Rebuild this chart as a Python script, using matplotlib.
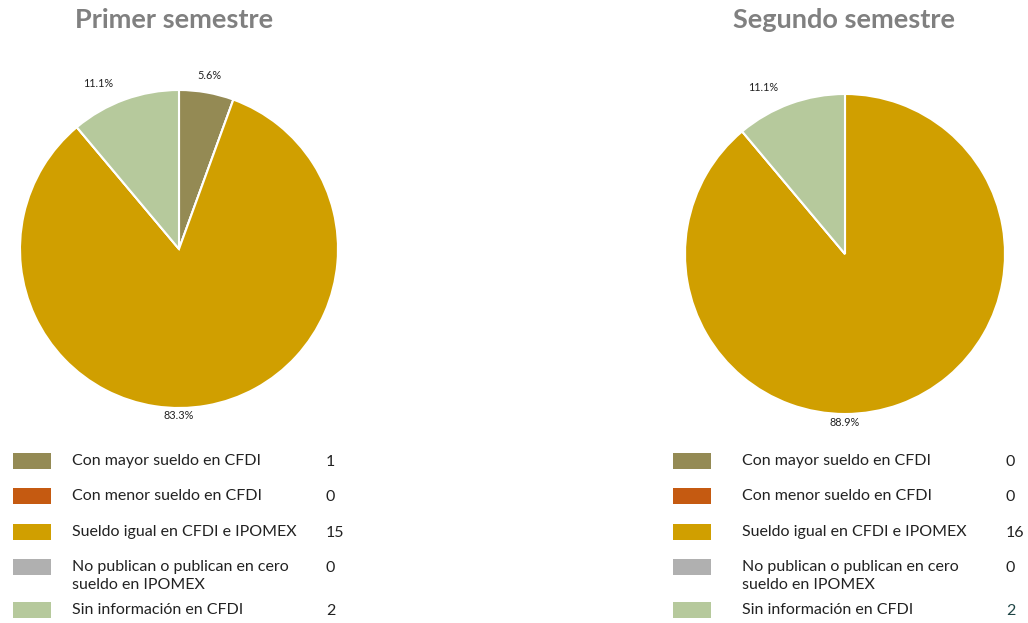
import matplotlib
matplotlib.use("Agg")
import matplotlib.pyplot as plt
from matplotlib.patches import Rectangle

plt.rcParams['font.family'] = ['Lato', 'DejaVu Sans']

# data
categorias = ['Con mayor sueldo en CFDI',
              'Con menor sueldo en CFDI',
              'Sueldo igual en CFDI e IPOMEX',
              'No publican o publican en cero\nsueldo en IPOMEX',
              'Sin información en CFDI']
primer = [1, 0, 15, 0, 2]
segundo = [0, 0, 16, 0, 2]
titulos = ['Primer semestre', 'Segundo semestre']
colores = ['#948a54', '#c55a11', '#d09f00', '#b0b0b0', '#b6c99c']

W, H = 1028, 623
fig = plt.figure(figsize=(W / 100, H / 100), dpi=100)


def pct(v):
    return '' if v < 0.05 else f'{v:.1f}%'


def dibuja_pie(valores, cx, cy, r, titulo, tx, ybig):
    ax = fig.add_axes([(cx - r) / W, (H - cy - r) / H, 2 * r / W, 2 * r / H])
    wedges, texts, autotexts = ax.pie(
        valores, colors=colores, startangle=90, counterclock=False,
        autopct=pct, pctdistance=1.11, radius=1,
        wedgeprops=dict(edgecolor='white', linewidth=1.5),
        textprops=dict(fontsize=7.8, color='#222222'))
    i = valores.index(max(valores))
    for j, t in enumerate(autotexts):
        x, y = t.get_position()
        if j == i:
            # big slice label sits right below the pie
            t.set_position((0, ybig))
        elif x < 0:
            t.set_position((x - 0.13, y))
    ax.set_xlim(-1, 1)
    ax.set_ylim(-1, 1)
    ax.set_aspect('equal')
    fig.text(tx / W, 1 - 20 / H, titulo, ha='center', va='center',
             fontsize=19.5, fontweight='bold', color='#808080')


def dibuja_leyenda(valores, x_sw, x_txt, x_num, color_ultimo):
    filas = [461, 496, 532, 567, 610]
    for k, (cat, val, col) in enumerate(zip(categorias, valores, colores)):
        y = filas[k]
        fig.patches.append(Rectangle((x_sw / W, 1 - (y + 8) / H), 38 / W, 16 / H,
                                     transform=fig.transFigure, facecolor=col,
                                     edgecolor='none'))
        ty = y if k != 3 else y + 9
        fig.text(x_txt / W, 1 - ty / H, cat, ha='left', va='center',
                 fontsize=11.5, color='#222222', linespacing=1.4)
        c = color_ultimo if k == 4 else '#222222'
        fig.text(x_num / W, 1 - (y + 1) / H, str(val), ha='left', va='center',
                 fontsize=11.5, color=c)


dibuja_pie(primer, 179, 249, 159, titulos[0], 174, -1.045)
dibuja_pie(segundo, 845, 254, 160, titulos[1], 844, -1.055)
dibuja_leyenda(primer, 13, 72, 326, '#222222')
dibuja_leyenda(segundo, 673, 742, 1006, '#1f4545')

fig.savefig('out.png', dpi=100)
